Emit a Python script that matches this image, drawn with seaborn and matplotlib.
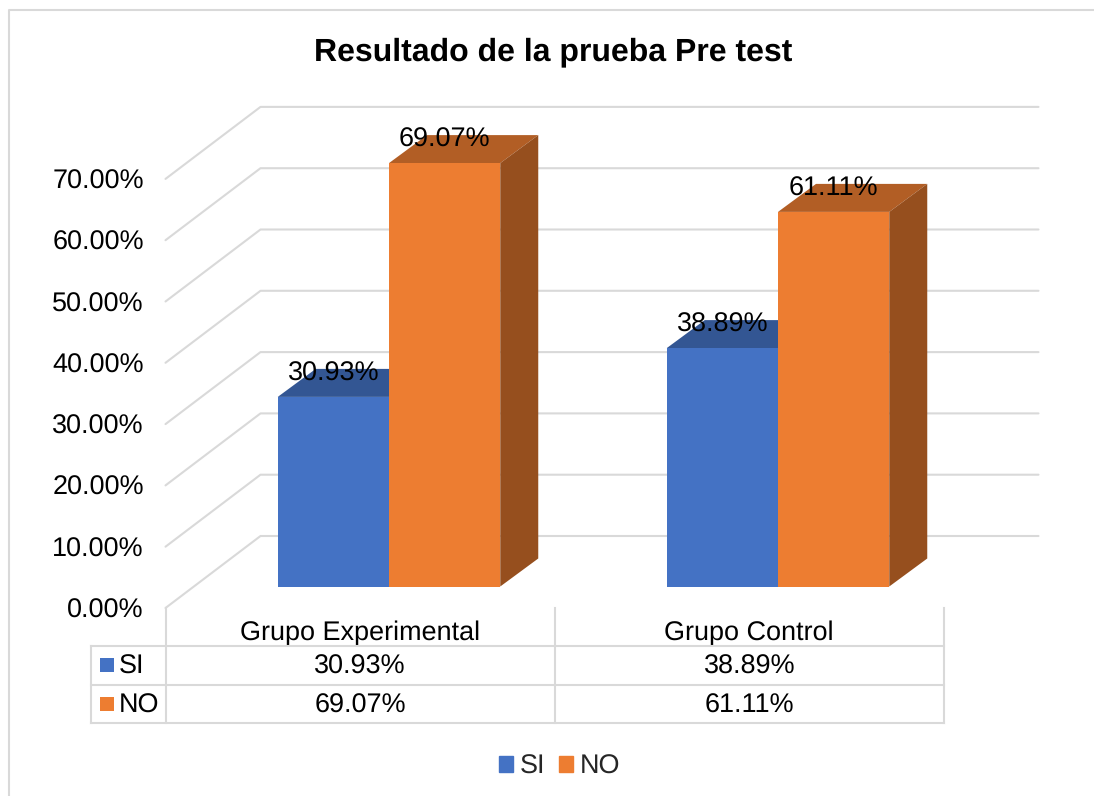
import pandas as pd
import matplotlib.pyplot as plt
import seaborn as sns
from matplotlib.lines import Line2D
from matplotlib.patches import Patch, Polygon

categories = ["Grupo Experimental", "Grupo Control"]
series_names = ["SI", "NO"]
si_values = [30.93, 38.89]
no_values = [69.07, 61.11]
y_ticks = [0, 10, 20, 30, 40, 50, 60, 70]

W, H = 1094, 796
BLUE, ORANGE = "#4472C4", "#ED7D31"
TOP_COLORS = {"SI": "#335693", "NO": "#B25E25"}
SIDE_COLORS = {"SI": "#294577", "NO": "#964F1E"}
GRID = "#D9D9D9"
FS = 19.5

# one category is 389 px wide, 10% is 61.3 px tall
CAT_PX, PCT_PX = 389.0, 6.13


def axes_box(left, bottom_y, width, height):
    """Axes rectangle from pixel numbers measured from the top left."""
    return [left / W, 1 - bottom_y / H, width / W, height / H]


def fig_line(fig, xs, ys):
    fig.add_artist(
        Line2D(
            [x / W for x in xs],
            [1 - y / H for y in ys],
            color=GRID,
            linewidth=1.5,
            solid_capstyle="projecting",
        )
    )


sns.set_theme(style="white")
plt.rcParams["font.family"] = ["Liberation Sans", "DejaVu Sans"]
plt.rcParams["text.hinting"] = "none"
plt.rcParams["text.hinting_factor"] = 1

fig = plt.figure(figsize=(W / 100, H / 100), dpi=100)

# frame of the chart, runs off the picture at right and bottom
fig_line(fig, [9, 9, W + 5], [H + 5, 10, 10])

# axis plane with the walls
ax = fig.add_axes(axes_box(165.5, 608, 2 * CAT_PX, 70 * PCT_PX))
ax.set_xlim(0, 2)
ax.set_ylim(0, 70)
sns.despine(ax=ax, left=True, bottom=True)
wall_dx, wall_dy = 95 / CAT_PX, 72 / PCT_PX
for v in y_ticks:
    ax.plot(
        [0, wall_dx, wall_dx + 2],
        [v, v + wall_dy, v + wall_dy],
        color=GRID,
        linewidth=1.5,
        clip_on=False,
    )
ax.set_yticks(y_ticks)
ax.set_yticklabels([f"{v:.2f}%" for v in y_ticks], fontsize=FS, color="black")
ax.set_xticks([0.5, 1.5])
ax.set_xticklabels(categories, fontsize=FS, color="black")
ax.tick_params(axis="y", length=0, pad=15.5)
ax.tick_params(axis="x", length=0, pad=9.5)
ax.patch.set_alpha(0)

# bars
df = pd.DataFrame(
    {
        "grupo": categories * 2,
        "serie": [series_names[0]] * 2 + [series_names[1]] * 2,
        "valor": si_values + no_values,
    }
)
ax_bars = fig.add_axes(axes_box(194.5, 586.5, 2 * CAT_PX, 70 * PCT_PX))
ax_bars.patch.set_alpha(0)
sns.barplot(
    data=df,
    x="grupo",
    y="valor",
    hue="serie",
    hue_order=series_names,
    palette=[BLUE, ORANGE],
    width=0.572,
    saturation=1,
    linewidth=0,
    legend=False,
    ax=ax_bars,
    zorder=3,
)
ax_bars.set_xlim(-0.5, 1.5)
ax_bars.set_ylim(0, 70)
ax_bars.axis("off")

depth_x, depth_y = 38 / CAT_PX, 28 / PCT_PX
for name, container in zip(series_names, ax_bars.containers):
    for bar in container:
        x0, x1 = bar.get_x(), bar.get_x() + bar.get_width()
        top = bar.get_height()
        ax_bars.add_patch(
            Polygon(
                [
                    (x0, top),
                    (x1, top),
                    (x1 + depth_x, top + depth_y),
                    (x0 + depth_x, top + depth_y),
                ],
                facecolor=TOP_COLORS[name],
                edgecolor="none",
                clip_on=False,
                zorder=2,
            )
        )
        ax_bars.add_patch(
            Polygon(
                [
                    (x1, 0),
                    (x1 + depth_x, depth_y),
                    (x1 + depth_x, top + depth_y),
                    (x1, top),
                ],
                facecolor=SIDE_COLORS[name],
                edgecolor="none",
                clip_on=False,
                zorder=2,
            )
        )
        ax_bars.annotate(
            f"{top:.2f}%",
            (x0 + bar.get_width() / 2, top),
            xytext=(0, 16.5),
            textcoords="offset points",
            ha="center",
            va="center",
            fontsize=FS,
            color="black",
            zorder=5,
        )

# data table below the plot
for y in [645.5, 685, 723]:
    fig_line(fig, [91, 944], [y, y])
fig_line(fig, [91, 91], [645.5, 723])
for x in [165.5, 555, 944]:
    fig_line(fig, [x, x], [608, 723])

for row_y, name, values, color in zip(
    [667, 706], series_names, [si_values, no_values], [BLUE, ORANGE]
):
    fig.add_artist(
        plt.Rectangle(
            (100 / W, 1 - (row_y + 5) / H),
            14 / W,
            14 / H,
            facecolor=color,
            edgecolor="none",
            transform=fig.transFigure,
        )
    )
    fig.text(119 / W, 1 - row_y / H, name, fontsize=FS, va="center", color="black")
    for x, v in zip([360, 749.5], values):
        fig.text(
            x / W,
            1 - row_y / H,
            f"{v:.2f}%",
            fontsize=FS,
            ha="center",
            va="center",
            color="black",
        )

fig.text(
    553.5 / W,
    1 - 52 / H,
    "Resultado de la prueba Pre test",
    fontsize=23,
    fontweight="bold",
    ha="center",
    va="center",
    color="black",
)

fig.legend(
    handles=[Patch(color=BLUE, label="SI"), Patch(color=ORANGE, label="NO")],
    loc="center",
    bbox_to_anchor=(559.5 / W, 1 - 767 / H),
    ncol=2,
    frameon=False,
    fontsize=FS,
    handlelength=0.53,
    handleheight=0.53,
    handletextpad=0.23,
    columnspacing=0.5,
    borderpad=0,
)

fig.savefig("out.png", dpi=100)
